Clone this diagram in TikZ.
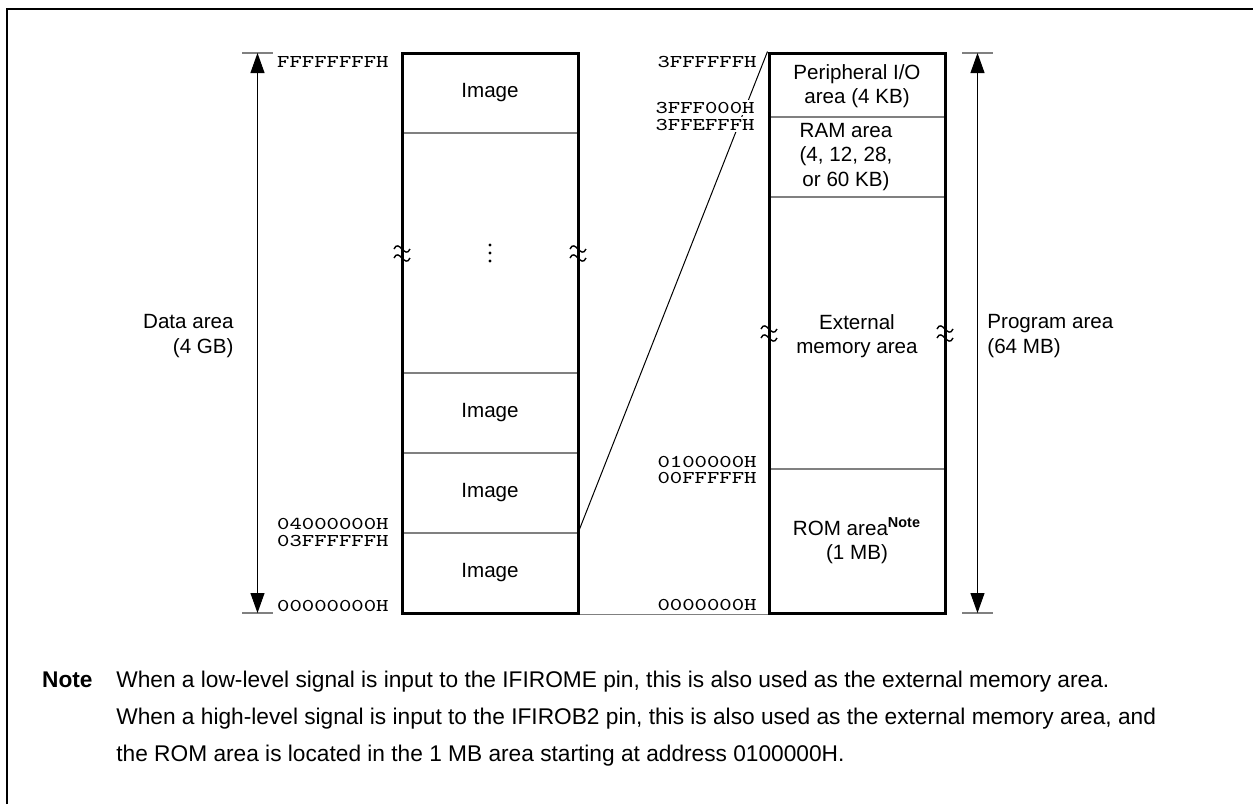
\documentclass[tikz,border=0pt]{standalone}
\usepackage{graphicx}
\usepackage{fontspec}
\setmainfont{Liberation Sans}
\usetikzlibrary{arrows.meta}

\tikzset{
  colbox/.style={draw, line width=1.5pt, minimum width=88pt, minimum height=280pt, inner sep=0pt},
  divline/.style={draw=black!50, line width=0.6pt},
  areatxt/.style={font=\fontsize{10.3}{12.3}\selectfont, align=center, inner sep=0pt},
  addr/.style={font=\ttfamily\fontsize{9}{9}\selectfont, inner sep=0pt, anchor=base east},
  dimarrow/.style={line width=0.5pt, {Triangle[length=10pt,width=7pt]}-{Triangle[length=10pt,width=7pt]}},
  tickline/.style={draw=black!50, line width=0.8pt},
  notetxt/.style={font=\fontsize{11.35}{13}\selectfont, inner sep=0pt, anchor=base west},
  brkmark/.pic={
    \draw[line width=0.7pt] (-8,-4) .. controls (-3,-15) and (3,7) .. (8,-4);
    \draw[line width=0.7pt] (-8,5) .. controls (-3,-6) and (3,16) .. (8,5);
  }
}
\newcommand{\hexaddr}[1]{\scalebox{1.31}[1]{#1}}

\begin{document}
\begin{tikzpicture}[x=0.5pt,y=-0.5pt]
  \useasboundingbox (0,0) rectangle (1253,804);
  % outer frame
  \draw[line width=0.6pt] (7,804) -- (7,9) -- (1253,9);

  % data area column
  \foreach \y in {133,373,453,533}
    \draw[divline] (402,\y) -- (578,\y);
  \node[colbox] (datacol) at (490,333) {};
  \node[areatxt] (img1) at (490,93) {Image};
  \foreach \y in {245,253,261}
    \fill (490,\y) circle (1.6);
  \node[areatxt] (img2) at (490,413) {Image};
  \node[areatxt] (img3) at (490,493) {Image};
  \node[areatxt] (img4) at (490,573) {Image};
  \pic at (402,253) {brkmark};
  \pic at (578,253) {brkmark};

  % program area column
  \foreach \y in {117,197,469}
    \draw[divline] (769,\y) -- (945,\y);
  \node[colbox] (progcol) at (857,333) {};
  \node[areatxt] (perio) at (857,86) {Peripheral I/O\\area (4 KB)};
  \node[areatxt] (ram) at (846,157) {RAM area\\(4, 12, 28,\\or 60 KB)};
  \node[areatxt] (extmem) at (857,336) {External\\memory area};
  \node[areatxt] (rom) at (857,541) {ROM area\textsuperscript{\bfseries Note}\\(1 MB)};
  \pic at (769,333) {brkmark};
  \pic at (945,333) {brkmark};

  % connectors between the columns
  \coordinate (split) at (578,533);
  \draw[line width=0.5pt] (split) -- (progcol.north west);
  \draw[divline] (datacol.south east) -- (progcol.south west);

  % addresses
  \node[addr] (aFF) at (389,67) {\hexaddr{FFFFFFFFH}};
  \node[addr] (a04) at (389,529) {\hexaddr{04000000H}};
  \node[addr] (a03) at (389,546) {\hexaddr{03FFFFFFH}};
  \node[addr] (a00) at (389,611) {\hexaddr{00000000H}};
  \node[addr] (b3F) at (757,67) {\hexaddr{3FFFFFFH}};
  \node[addr, fill=white, inner sep=1pt] (b3FF0) at (757,113) {\hexaddr{3FFF000H}};
  \node[addr, fill=white, inner sep=1pt] (b3FFE) at (757,130) {\hexaddr{3FFEFFFH}};
  \node[addr] (b01) at (757,467) {\hexaddr{0100000H}};
  \node[addr] (b00F) at (757,483) {\hexaddr{00FFFFFH}};
  \node[addr] (b000) at (757,610) {\hexaddr{0000000H}};

  % dimension arrows
  \coordinate (dtop) at (257.5,53);
  \coordinate (dbot) at (257.5,613);
  \draw[tickline] (242,53) -- (273,53);
  \draw[tickline] (242,613) -- (273,613);
  \draw[dimarrow] (dtop) -- (dbot);
  \node[areatxt, align=right, anchor=east] (datalbl) at (234,336) {Data area\\(4 GB)};

  \coordinate (ptop) at (977.5,53);
  \coordinate (pbot) at (977.5,613);
  \draw[tickline] (962,53) -- (993,53);
  \draw[tickline] (962,613) -- (993,613);
  \draw[dimarrow] (ptop) -- (pbot);
  \node[areatxt, align=left, anchor=west] (proglbl) at (987,336) {Program area\\(64 MB)};

  % note
  \node[notetxt, anchor=base east, font=\fontsize{11.35}{13}\selectfont\bfseries] (notehd) at (93,687) {Note};
  \node[notetxt] (note1) at (116,687) {When a low-level signal is input to the IFIROME pin, this is also used as the external memory area.};
  \node[notetxt] (note2) at (116,724) {When a high-level signal is input to the IFIROB2 pin, this is also used as the external memory area, and};
  \node[notetxt] (note3) at (116,761) {the ROM area is located in the 1 MB area starting at address 0100000H.};
\end{tikzpicture}
\end{document}
